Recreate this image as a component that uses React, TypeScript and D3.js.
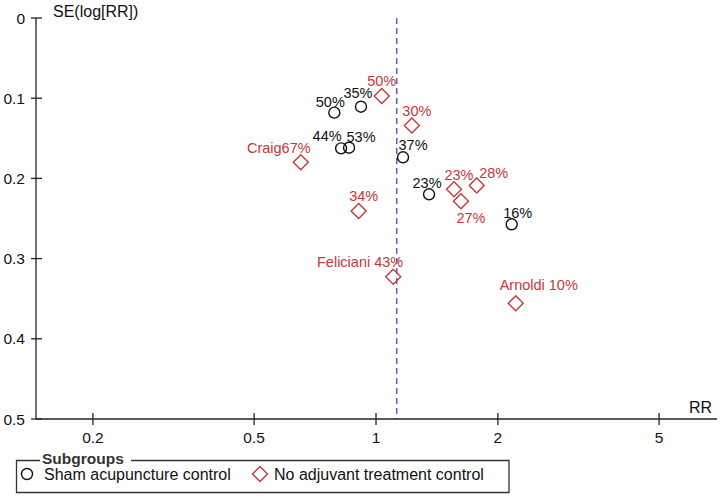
import React, { useRef, useEffect } from 'react';
import * as d3 from 'd3';

// sham acupuncture control (black circles)
const shamLabels = ['50%', '35%', '44%', '53%', '37%', '23%', '16%'];
const shamRR = [0.789, 0.918, 0.82, 0.858, 1.166, 1.352, 2.163];
const shamSE = [0.118, 0.1106, 0.1625, 0.1617, 0.1737, 0.2198, 0.2572];

// no adjuvant treatment control (red diamonds)
const noAdjLabels = ['Craig67%', '50%', '30%', '34%', '23%', '28%', '27%', 'Feliciani 43%', 'Arnoldi 10%'];
const noAdjRR = [0.652, 1.033, 1.226, 0.906, 1.558, 1.773, 1.621, 1.103, 2.213];
const noAdjSE = [0.18, 0.0973, 0.134, 0.2407, 0.2136, 0.2089, 0.2284, 0.3226, 0.3556];

const pooledRR = 1.125;
const xTicks = [0.2, 0.5, 1, 2, 5];
const yTicks = [0, 0.1, 0.2, 0.3, 0.4, 0.5];
const legendItems = ['Sham acupuncture control', 'No adjuvant treatment control'];

// where each label sits relative to its marker (layout only)
const shamLabelPos = [[-4, -6], [-3, -9], [-14, -7], [12, -6], [10, -7], [-2, -6], [6, -6]];
const noAdjLabelPos: [number, number, string][] = [
  [-22, -9, 'middle'], [0, -10, 'middle'], [5, -9, 'middle'], [5, -10, 'middle'],
  [5, -9, 'middle'], [17, -8, 'middle'], [10, 22, 'middle'], [10, -10, 'end'], [23, -13, 'middle']];

const RED = '#c8373a';
const FONT = 'Liberation Sans, Arial, sans-serif';

const App = () => {
  const svgRef = useRef<SVGSVGElement>(null);
  const width = 720, height = 497;

  useEffect(() => {
    document.body.style.margin = '0';
    const svg = d3.select(svgRef.current);
    svg.selectAll('*').remove();

    const x = d3.scaleLog().domain([0.1447, 6.91]).range([36, 716]);
    const y = d3.scaleLinear().domain([0, 0.5]).range([18, 419]);

    const g = svg.append('g').attr('font-family', FONT);

    // pooled estimate
    g.append('line')
      .attr('x1', x(pooledRR)).attr('x2', x(pooledRR))
      .attr('y1', y(0)).attr('y2', y(0.5))
      .attr('stroke', '#5560b0').attr('stroke-width', 1.5)
      .attr('stroke-dasharray', '6,4');

    // y axis
    g.append('line').attr('x1', 36).attr('x2', 36).attr('y1', y(0)).attr('y2', y(0.5))
      .attr('stroke', '#222').attr('stroke-width', 1.3);
    g.selectAll('.ytick').data(yTicks).join('line')
      .attr('x1', 31).attr('x2', 42)
      .attr('y1', d => y(d)).attr('y2', d => y(d))
      .attr('stroke', '#222').attr('stroke-width', 1.3);
    g.selectAll('.ylab').data(yTicks).join('text')
      .attr('x', 25).attr('y', d => y(d)).attr('dy', '0.36em')
      .attr('text-anchor', 'end').attr('font-size', 15.5).attr('fill', '#111')
      .text(d => String(d));
    g.append('text').attr('x', 53).attr('y', 17).attr('font-size', 16).attr('fill', '#111')
      .text('SE(log[RR])');

    // x axis
    g.append('line').attr('x1', 36).attr('x2', 717).attr('y1', y(0.5)).attr('y2', y(0.5))
      .attr('stroke', '#222').attr('stroke-width', 1.3);
    g.selectAll('.xtick').data(xTicks).join('line')
      .attr('x1', d => x(d)).attr('x2', d => x(d))
      .attr('y1', 413).attr('y2', 425)
      .attr('stroke', '#222').attr('stroke-width', 1.3);
    g.selectAll('.xlab').data(xTicks).join('text')
      .attr('x', d => x(d)).attr('y', 443)
      .attr('text-anchor', 'middle').attr('font-size', 15.5).attr('fill', '#111')
      .text(d => String(d));
    g.append('text').attr('x', 712).attr('y', 413).attr('text-anchor', 'end')
      .attr('font-size', 16).attr('fill', '#111').text('RR');

    const diamond = (cx: number, cy: number, r: number) =>
      `M${cx},${cy - r}L${cx + r},${cy}L${cx},${cy + r}L${cx - r},${cy}Z`;

    // sham points
    shamRR.forEach((rr, i) => {
      const cx = x(rr), cy = y(shamSE[i]);
      g.append('circle').attr('cx', cx).attr('cy', cy).attr('r', 5.5)
        .attr('fill', 'none').attr('stroke', '#111').attr('stroke-width', 1.4);
      g.append('text').attr('x', cx + shamLabelPos[i][0]).attr('y', cy + shamLabelPos[i][1])
        .attr('text-anchor', 'middle').attr('font-size', 14.5).attr('fill', '#111')
        .text(shamLabels[i]);
    });

    // no adjuvant points
    noAdjRR.forEach((rr, i) => {
      const cx = x(rr), cy = y(noAdjSE[i]);
      g.append('path').attr('d', diamond(cx, cy, 7.5))
        .attr('fill', 'none').attr('stroke', RED).attr('stroke-width', 1.4);
      const p = noAdjLabelPos[i];
      g.append('text').attr('x', cx + p[0]).attr('y', cy + p[1])
        .attr('text-anchor', p[2]).attr('font-size', 14.5).attr('fill', RED)
        .text(noAdjLabels[i]);
    });

    // legend
    const lg = svg.append('g').attr('font-family', FONT);
    lg.append('path')
      .attr('d', 'M40,460.5H16.5V492.5H509V460.5H131')
      .attr('fill', 'none').attr('stroke', '#333').attr('stroke-width', 1.3);
    lg.append('text').attr('x', 42).attr('y', 464).attr('font-size', 15.5)
      .attr('font-weight', 'bold').attr('fill', '#333').text('Subgroups');
    lg.append('circle').attr('cx', 27).attr('cy', 474).attr('r', 5.5)
      .attr('fill', 'none').attr('stroke', '#111').attr('stroke-width', 1.4);
    lg.append('text').attr('x', 44).attr('y', 480).attr('font-size', 16).attr('fill', '#111')
      .text(legendItems[0]);
    lg.append('path').attr('d', diamond(260, 474, 7.5))
      .attr('fill', 'none').attr('stroke', RED).attr('stroke-width', 1.4);
    lg.append('text').attr('x', 274).attr('y', 480).attr('font-size', 16).attr('fill', '#111')
      .text(legendItems[1]);
  }, []);

  return <svg ref={svgRef} width={width} height={height} style={{ display: 'block' }} />;
};

export default App;
